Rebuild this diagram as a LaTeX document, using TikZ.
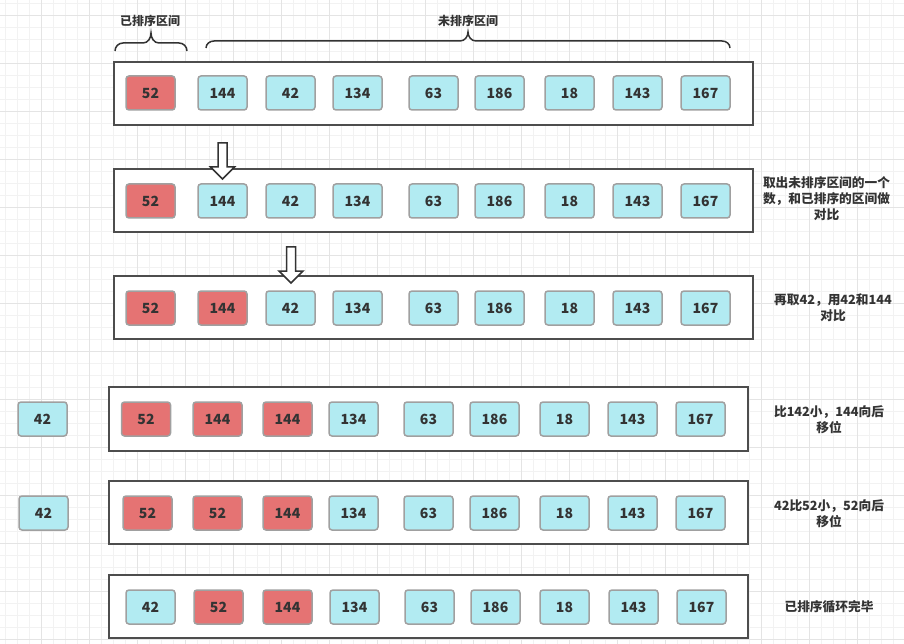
\documentclass[tikz,border=0pt]{standalone}
\usepackage{fontspec}
\setmainfont{Noto Sans CJK SC}
\definecolor{redc}{HTML}{E57373}
\definecolor{cyanc}{HTML}{B2EBF2}
\definecolor{cellb}{HTML}{A0A0A0}
\definecolor{boxb}{HTML}{4D4D4D}
\definecolor{txt}{HTML}{333333}
\definecolor{gminor}{HTML}{F2F2F2}
\definecolor{gmajor}{HTML}{E4E4E4}
\tikzset{
  cell/.style={draw=cellb, line width=1.5pt, rounded corners=3pt, minimum width=49pt, minimum height=34pt, inner sep=0pt, text=txt, font=\fontsize{14}{16}\selectfont\bfseries},
  rowbox/.style={draw=boxb, line width=2pt, fill=white, inner sep=0pt},
  note/.style={align=center, text=txt, font=\fontsize{12.7}{16}\selectfont\bfseries, inner sep=0pt},
  bracelbl/.style={text=txt, font=\fontsize{12}{14}\selectfont\bfseries, inner sep=0pt},
  bracepath/.style={draw=txt, line width=1.5pt},
  blockarrow/.style={draw=txt, line width=1.5pt, fill=white, line join=miter},
  gminorline/.style={draw=gminor, line width=0.8pt},
  gmajorline/.style={draw=gmajor, line width=0.8pt}
}
\begin{document}
\begin{tikzpicture}[x=1pt, y=-1pt]
\useasboundingbox (0,0) rectangle (904,644);
\fill[white] (0,0) rectangle (904,644);
% grid
\foreach \x in {5,17,...,904} \draw[gminorline] (\x,0) -- (\x,644);
\foreach \y in {3,15,...,644} \draw[gminorline] (0,\y) -- (904,\y);
\foreach \x in {41,89,...,904} \draw[gmajorline] (\x,0) -- (\x,644);
\foreach \y in {15,63,...,644} \draw[gmajorline] (0,\y) -- (904,\y);

% braces
\draw[bracepath] (115,51) to[out=90,in=180] (123,43) -- (143,43) to[out=0,in=-90] (151,33) to[out=-90,in=180] (159,43) -- (179,43) to[out=0,in=90] (187,51);
\draw[bracepath] (206,48) to[out=90,in=180] (214,41) -- (460,41) to[out=0,in=-90] (468,32) to[out=-90,in=180] (476,41) -- (722,41) to[out=0,in=90] (730,48);
\node[bracelbl] (lblsorted) at (150,21) {已排序区间};
\node[bracelbl] (lblunsorted) at (468,21) {未排序区间};

% row containers
\node[rowbox, minimum width=639pt, minimum height=63pt] (row1) at (433.5,93.5) {};
\node[rowbox, minimum width=639pt, minimum height=63pt] (row2) at (433.5,200.5) {};
\node[rowbox, minimum width=639pt, minimum height=63pt] (row3) at (433.5,307.5) {};
\node[rowbox, minimum width=639pt, minimum height=64pt] (row4) at (428.5,419) {};
\node[rowbox, minimum width=639pt, minimum height=63pt] (row5) at (428.5,512.5) {};
\node[rowbox, minimum width=639pt, minimum height=63pt] (row6) at (428.5,606.5) {};

% row 1
\foreach \v/\c/\x [count=\i] in {52/redc/150.5,144/cyanc/222.5,42/cyanc/290.5,134/cyanc/357.5,63/cyanc/433.5,186/cyanc/499.5,18/cyanc/569.5,143/cyanc/637.5,167/cyanc/705.5}
  \node[cell, fill=\c] (r1c\i) at (\x,93) {\v};
% row 2
\foreach \v/\c/\x [count=\i] in {52/redc/150.5,144/cyanc/222.5,42/cyanc/290.5,134/cyanc/357.5,63/cyanc/433.5,186/cyanc/499.5,18/cyanc/569.5,143/cyanc/637.5,167/cyanc/705.5}
  \node[cell, fill=\c] (r2c\i) at (\x,201) {\v};
% row 3
\foreach \v/\c/\x [count=\i] in {52/redc/150.5,144/redc/222.5,42/cyanc/290.5,134/cyanc/357.5,63/cyanc/433.5,186/cyanc/499.5,18/cyanc/569.5,143/cyanc/637.5,167/cyanc/705.5}
  \node[cell, fill=\c] (r3c\i) at (\x,308) {\v};
% row 4
\foreach \v/\c/\x [count=\i] in {52/redc/146,144/redc/217.5,144/redc/287.5,134/cyanc/353.5,63/cyanc/428.5,186/cyanc/494.5,18/cyanc/564.5,143/cyanc/632.5,167/cyanc/700.5}
  \node[cell, fill=\c] (r4c\i) at (\x,419) {\v};
% row 5
\foreach \v/\c/\x [count=\i] in {52/redc/147.5,52/redc/217.5,144/redc/287.5,134/cyanc/353.5,63/cyanc/428.5,186/cyanc/494.5,18/cyanc/564.5,143/cyanc/632.5,167/cyanc/700.5}
  \node[cell, fill=\c] (r5c\i) at (\x,513) {\v};
% row 6
\foreach \v/\c/\x [count=\i] in {42/cyanc/150.5,52/redc/218.5,144/redc/287.5,134/cyanc/354.5,63/cyanc/429.5,186/cyanc/495.5,18/cyanc/564.5,143/cyanc/633.5,167/cyanc/701.5}
  \node[cell, fill=\c] (r6c\i) at (\x,607) {\v};

% extracted 42
\node[cell, fill=cyanc] (tmp4) at (42.5,419) {42};
\node[cell, fill=cyanc] (tmp5) at (43.5,513) {42};

% block arrows
\draw[blockarrow] (218,143) -- (227,143) -- (227,167) -- (234.5,167) -- (222.5,179) -- (210.5,167) -- (218,167) -- cycle;
\draw[blockarrow] (286.5,247) -- (295.5,247) -- (295.5,271) -- (303,271) -- (291,283) -- (279,271) -- (286.5,271) -- cycle;

% notes
\node[note] (note2) at (826.5,199) {取出未排序区间的一个\\数，和已排序的区间做\\对比};
\node[note] (note3) at (833,307.5) {再取42，用42和144\\对比};
\node[note] (note4) at (829,419.5) {比142小，144向后\\移位};
\node[note] (note5) at (829,514) {42比52小，52向后\\移位};
\node[note] (note6) at (829,607) {已排序循环完毕};
\end{tikzpicture}
\end{document}
